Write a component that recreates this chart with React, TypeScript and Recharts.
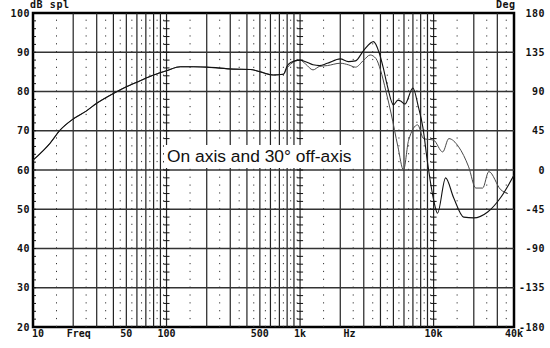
import { LineChart, Line, XAxis, YAxis, ReferenceLine, ReferenceArea } from "recharts";

// shared low/mid part of both curves (Hz, dB)
const lowFreq = [10, 13.4, 16, 20, 25, 30, 40, 50, 63, 80, 100, 127, 160, 200, 316, 425, 505, 630, 750];
const lowDb = [62.5, 66.8, 70.2, 73, 75, 77, 79.5, 81.2, 82.7, 84.2, 85.3, 86.3, 86.3, 86.2, 85.7, 85.6, 85.0, 84.2, 84.4];

// on axis
const onFreq = [800, 850, 1000, 1100, 1250, 1400, 1600, 2000, 2300, 2600, 3000, 3550, 3900, 4200, 4500, 5000, 5400, 5700, 6100, 7000, 7700, 8300, 9000, 10000, 10700, 12300, 14100, 16800, 20000, 25400, 31800, 40000];
const onDb = [86.5, 87.4, 88, 87.6, 86.8, 86.6, 87.2, 88.3, 87.6, 87.8, 90.5, 92.7, 90, 86, 81.5, 76.6, 77.8, 77.5, 76.8, 80.9, 76, 71, 62, 52.4, 49, 58, 53, 48, 47.8, 49.3, 53, 58.7];

// 30 deg off axis
const offFreq = [800, 850, 1000, 1100, 1250, 1400, 1600, 2000, 2300, 2600, 3000, 3350, 3700, 4000, 4400, 4800, 5400, 5950, 6500, 7600, 8400, 10000, 11700, 13000, 15400, 18300, 20700, 23300, 25900, 31800, 36000];
const offDb = [86.0, 87, 88, 87, 85.5, 86.4, 86.6, 87.2, 86.8, 86.2, 88, 89.3, 88.4, 85.5, 80, 74.5, 66, 60, 67.6, 71.5, 68, 67.6, 64.6, 68, 65.9, 60.8, 55.4, 55.4, 59.6, 55, 54];

const xTickValues = [10, 22, 50, 100, 500, 1000, 2350, 5000, 10000, 40000];
const xTickLabels = ["10", "Freq", "50", "100", "500", "1k", "Hz", "5k", "10k", "40k"];
const dbTicks = [20, 30, 40, 50, 60, 70, 80, 90, 100];
const degTicks = [-180, -135, -90, -45, 0, 45, 90, 135, 180];

const build = (f: number[], v: number[]) => f.map((x, i) => ({ f: x, db: v[i] }));
const onAxis = [...build(lowFreq, lowDb), ...build(onFreq, onDb)];
const offAxis = [...build(lowFreq, lowDb), ...build(offFreq, offDb)];
// keeps the phase axis alive (nothing is drawn on it)
const phaseRange = [
  { f: 10, deg: -180 },
  { f: 40000, deg: 180 },
];

// grid helpers
const decades = [10, 100, 1000, 10000];
const solidGrid = decades
  .flatMap((d) => [2, 3, 4, 5, 6, 7, 8, 9].map((m) => m * d))
  .filter((x) => x < 40000);
const dottedGrid = decades
  .flatMap((d) => [1.5, 2.5, 3.5, 4.5, 5.5, 6.5, 7.5, 8.5, 9.5].map((m) => m * d))
  .filter((x) => x < 40000);
const minorDb = Array.from({ length: 39 }, (_, i) => 22 + i * 2);
const tickCols = [10, 100, 1000, 10000];

const axisFont = {
  fontFamily: "'DejaVu Sans Mono', monospace",
  fontWeight: 700,
  fontSize: 10,
  fill: "#111",
};

const XTick = ({ x, payload, index }: any) => {
  const anchor = index === 0 ? "start" : index === xTickValues.length - 1 ? "end" : "middle";
  const dx = index === 0 ? -1 : index === xTickValues.length - 1 ? 2 : 0;
  return (
    <text x={x + dx} y={337} textAnchor={anchor} {...axisFont}>
      {xTickLabels[xTickValues.indexOf(payload.value)]}
    </text>
  );
};

const LeftTick = ({ y, payload }: any) => (
  <text x={30} y={y + 3.5} textAnchor="end" {...axisFont} letterSpacing={0.5}>
    {payload.value}
  </text>
);

const RightTick = ({ y, payload }: any) => (
  <text x={545} y={y + 3.5} textAnchor="end" {...axisFont} letterSpacing={0.5}>
    {payload.value}
  </text>
);

export default function App() {
  return (
    <div style={{ position: "absolute", left: 0, top: 0, width: 550, height: 348, background: "#fff" }}>
      <LineChart width={550} height={348} margin={{ top: 13, right: 0, bottom: 0, left: 0 }}>
        <XAxis
          dataKey="f"
          type="number"
          scale="log"
          domain={[10, 40000]}
          ticks={xTickValues}
          allowDataOverflow
          height={21}
          axisLine={false}
          tickLine={false}
          tick={<XTick />}
        />
        <YAxis
          yAxisId="db"
          type="number"
          domain={[20, 100]}
          ticks={dbTicks}
          width={33}
          axisLine={false}
          tickLine={false}
          tick={<LeftTick />}
        />
        <YAxis
          yAxisId="deg"
          orientation="right"
          type="number"
          domain={[-180, 180]}
          ticks={degTicks}
          interval={0}
          allowDataOverflow
          width={36}
          axisLine={false}
          tickLine={false}
          tick={<RightTick />}
        />
        {dottedGrid.map((x) => (
          <ReferenceLine key={"d" + x} x={x} yAxisId="db" stroke="#333" strokeWidth={1} strokeDasharray="1.2 6.65" />
        ))}
        {solidGrid.map((x) => (
          <ReferenceLine key={"s" + x} x={x} yAxisId="db" stroke="#222" strokeWidth={1.2} />
        ))}
        {[100, 1000, 10000].map((x) => (
          <ReferenceLine key={"m" + x} x={x} yAxisId="db" stroke="#222" strokeWidth={1.2} />
        ))}
        {dbTicks.slice(1, -1).map((y) => (
          <ReferenceLine key={"h" + y} y={y} yAxisId="db" stroke="#333" strokeWidth={1.5} />
        ))}
        {tickCols.flatMap((c) =>
          minorDb.map((y) => (
            <ReferenceLine
              key={"t" + c + "-" + y}
              yAxisId="db"
              ifOverflow="visible"
              segment={[
                { x: c === 10 ? c : c / 1.053, y },
                { x: c * 1.053, y },
              ]}
              stroke="#111"
              strokeWidth={1}
            />
          ))
        )}
        <ReferenceArea
          yAxisId="db"
          x1={10}
          x2={40000}
          y1={20}
          y2={100}
          ifOverflow="visible"
          fill="none"
          stroke="#000"
          strokeWidth={2.5}
        />
        <Line
          yAxisId="deg"
          data={phaseRange}
          dataKey="deg"
          stroke="none"
          dot={false}
          activeDot={false}
          legendType="none"
          isAnimationActive={false}
        />
        <Line
          yAxisId="db"
          data={offAxis}
          dataKey="db"
          type="monotone"
          stroke="#4a4a4a"
          strokeWidth={1}
          dot={false}
          isAnimationActive={false}
        />
        <Line
          yAxisId="db"
          data={onAxis}
          dataKey="db"
          type="monotone"
          stroke="#111"
          strokeWidth={1.1}
          dot={false}
          isAnimationActive={false}
        />
      </LineChart>
      <div
        style={{
          position: "absolute",
          left: 30,
          top: 0,
          fontFamily: "'DejaVu Sans Mono', monospace",
          fontWeight: 700,
          fontSize: 10,
          letterSpacing: 0.6,
          lineHeight: "10px",
          color: "#111",
        }}
      >
        dB spl
      </div>
      <div
        style={{
          position: "absolute",
          left: 496,
          top: 0,
          fontFamily: "'DejaVu Sans Mono', monospace",
          fontWeight: 700,
          fontSize: 10,
          letterSpacing: 0.5,
          lineHeight: "10px",
          color: "#111",
        }}
      >
        Deg
      </div>
      <div
        style={{
          position: "absolute",
          left: 164,
          top: 145,
          padding: "0 3px",
          background: "#fff",
          fontFamily: "'Liberation Sans', Arial, sans-serif",
          fontSize: 17.4,
          lineHeight: "23px",
          color: "#111",
        }}
      >
        On axis and 30° off-axis
      </div>
    </div>
  );
}
